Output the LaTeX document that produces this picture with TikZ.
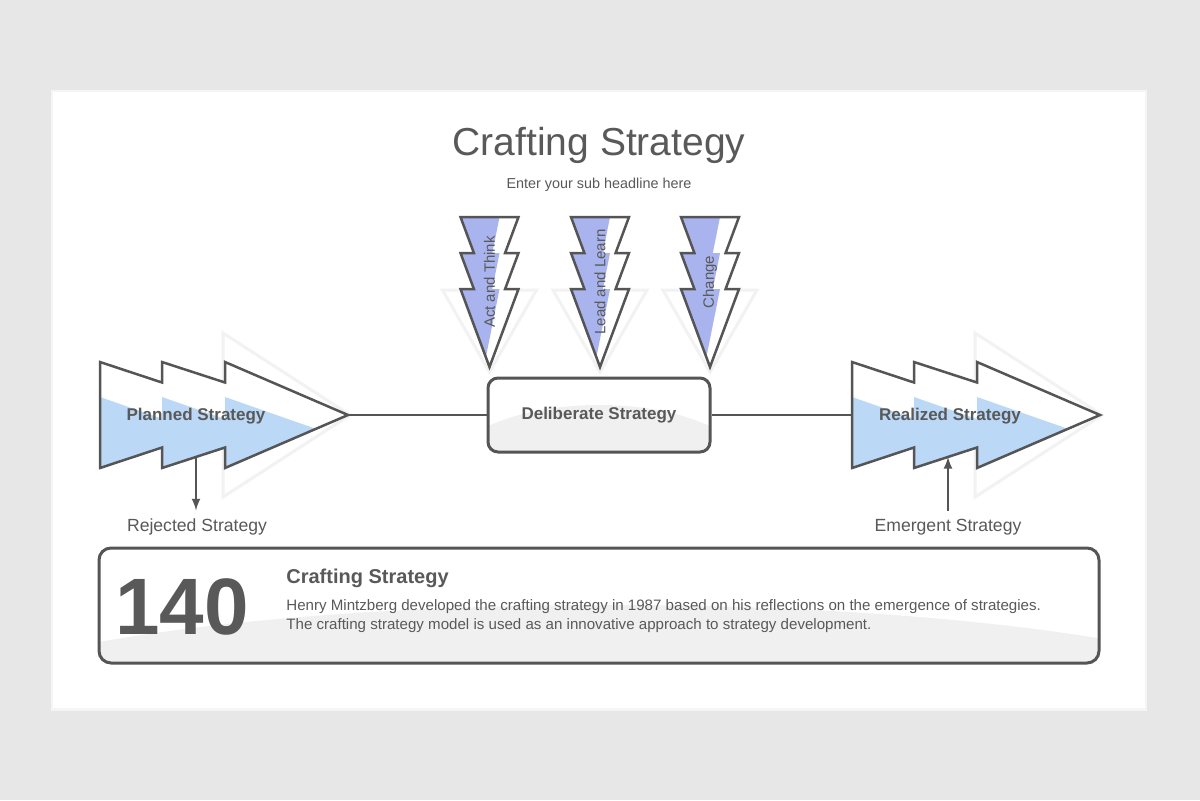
\documentclass[tikz,border=0pt]{standalone}
\usepackage{fontspec}
\setmainfont{Liberation Sans}
\usepackage{tikz}
\usetikzlibrary{calc}
\usetikzlibrary{arrows}
\definecolor{pagegray}{HTML}{E8E7E8}
\definecolor{linegray}{HTML}{555555}
\definecolor{textgray}{HTML}{595959}
\definecolor{chevblue}{HTML}{BBD8F7}
\definecolor{boltblue}{HTML}{A9B4EE}
\definecolor{shadegray}{HTML}{F0F0F0}
\tikzset{
	outline/.style={draw=linegray, line width=1.25pt, line join=miter},
	conn/.style={draw=linegray, line width=1pt},
	backing/.style={fill=white, draw=black!5, line width=1.5pt},
	panel/.style={draw=linegray, line width=1.5pt, fill=white, text=textgray},
	chevlabel/.style={text=textgray, font=\fontsize{8.5}{10}\selectfont\bfseries},
	sidelabel/.style={text=textgray, font=\fontsize{8.8}{10}\selectfont, inner sep=4pt},
	bodyline/.style={text=textgray, anchor=base west, inner sep=0pt, font=\fontsize{7.55}{9}\selectfont},
	strategy arrow/.pic={
		\fill[backing] (123,-82) -- (250,0) -- (123,82) -- cycle;
		\foreach \px/\pw in {0/160, 62/160, 125/123}{
			\fill[white] (\px,-53) -- ++(\pw,53) -- (\px,53) -- cycle;
			\begin{scope}
				\clip (\px,-53) -- ++(\pw,53) -- (\px,53) -- cycle;
				\fill[chevblue] (\px,-18) -- ++(200,70) -- ++(0,20) -- (\px,72) -- cycle;
			\end{scope}
		}
		\draw[outline] (0,-53) -- (62,-32.5) -- (62,-53) -- (125,-32.5) -- (125,-53) -- (248,0)
			-- (125,53) -- (125,32.5) -- (62,53) -- (62,32.5) -- (0,53) -- cycle;
		\coordinate (-left) at (0,0);
		\coordinate (-tip) at (248,0);
		\coordinate (-jag) at (96,42);
	},
	bolt/.pic={
		\fill[backing] (-47,73) -- (47,73) -- (0,155) -- cycle;
		\foreach \py in {0,36,72}{
			\fill[white] (-29,\py) -- (29,\py) -- (0,\py+78) -- cycle;
			\begin{scope}
				\clip (-29,\py) -- (29,\py) -- (0,\py+78) -- cycle;
				\fill[boltblue] (-40,\py) -- (10,\py) -- (-10,\py+100) -- (-40,\py+100) -- cycle;
			\end{scope}
		}
		\draw[outline] (-29,0) -- (29,0) -- (15.6,36) -- (29,36) -- (15.6,72) -- (29,72) -- (0,150)
			-- (-29,72) -- (-15.6,72) -- (-29,36) -- (-15.6,36) -- cycle;
		\node[rotate=90, text=textgray, font=\fontsize{7.5}{9}\selectfont] (-text) at (0,65) {#1};
	},
}
\begin{document}
\begin{tikzpicture}[x=0.5pt, y=-0.5pt]
	\useasboundingbox (0,0) rectangle (1200,800);
	\fill[pagegray] (0,0) rectangle (1200,800);
	\fill[black!4] (51,90) rectangle (1147,711);
	\fill[white] (53,92) rectangle (1145,708);

	\node[text=textgray, font=\fontsize{19.5}{23}\selectfont] (title) at (599,145) {Crafting Strategy};
	\node[text=textgray, font=\fontsize{7.2}{9}\selectfont] (subtitle) at (599,185) {Enter your sub headline here};

	\pic (act) at (489.5,217) {bolt={Act and Think}};
	\pic (lead) at (600,217) {bolt={Lead and Learn}};
	\pic (change) at (710,217) {bolt={Change}};

	\pic (planned) at (100,415) {strategy arrow};
	\pic (realized) at (852,415) {strategy arrow};
	\node[chevlabel] (plannedtext) at (196,416) {Planned Strategy};
	\node[chevlabel] (realizedtext) at (950,416) {Realized Strategy};

	\node[panel, rounded corners=5pt, minimum width=111pt, minimum height=37pt,
		font=\fontsize{8.5}{10}\selectfont\bfseries,
		path picture={\fill[shadegray] ([yshift=-9pt]path picture bounding box.south) ellipse [x radius=75pt, y radius=32.5pt];}]
		(deliberate) at (599,415) {Deliberate Strategy};

	\draw[conn] (planned-tip) -- (deliberate);
	\draw[conn] (deliberate) -- (realized-left);

	\node[sidelabel] (rejected) at (197,527) {Rejected Strategy};
	\node[sidelabel] (emergent) at (948,527) {Emergent Strategy};
	\draw[conn, -latex] (planned-jag) -- (planned-jag |- rejected.north);
	\draw[conn, -latex] (realized-jag |- emergent.north) -- (realized-jag);

	% summary panel
	\node[panel, rounded corners=6pt, minimum width=500pt, minimum height=57.5pt,
		path picture={\fill[shadegray] ([xshift=5.5pt,yshift=-29.5pt]path picture bounding box.south) ellipse [x radius=350pt, y radius=58.5pt];}]
		(infobox) at (599,605.5) {};
	\node[text=textgray, font=\fontsize{40}{44}\selectfont\bfseries] (number) at (182,607) {140};
	\node[text=textgray, anchor=west, inner sep=0pt, font=\fontsize{10}{12}\selectfont\bfseries] (infohead) at (286,578) {Crafting Strategy};
	\node[bodyline] (infoline1) at (286,610) {Henry Mintzberg developed the crafting strategy in 1987 based on his reflections on the emergence of strategies.};
	\node[bodyline] (infoline2) at (286,629) {The crafting strategy model is used as an innovative approach to strategy development.};
\end{tikzpicture}
\end{document}
